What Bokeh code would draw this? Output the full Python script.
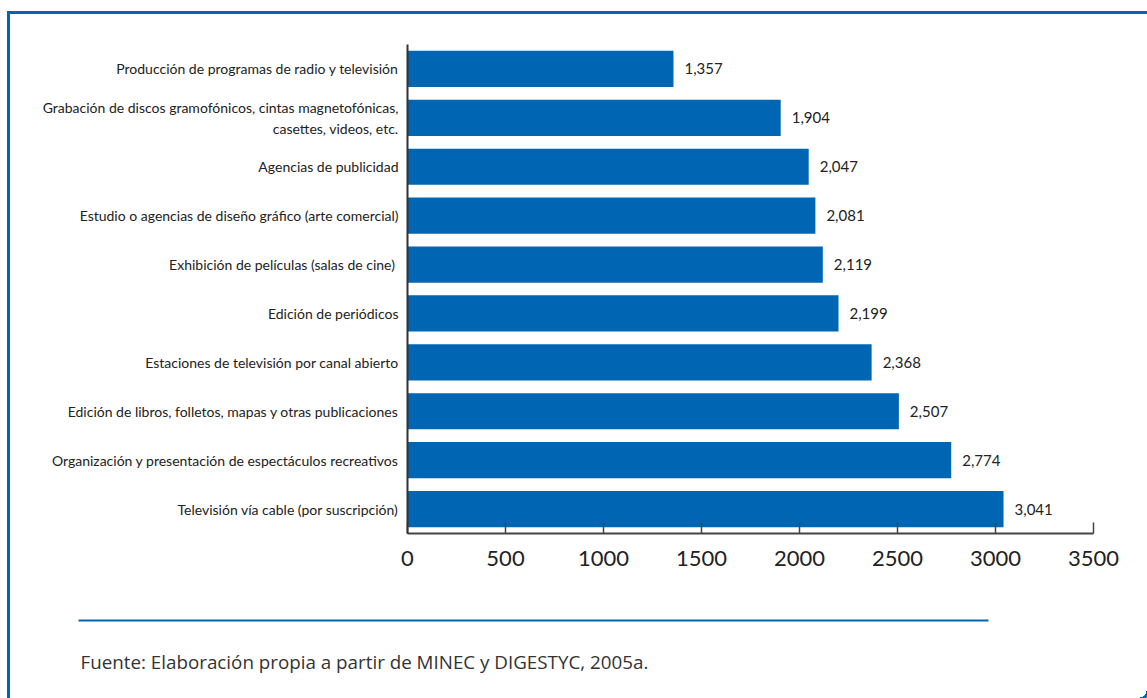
from bokeh.plotting import figure
from bokeh.layouts import column
from bokeh.models import Range1d, Label, BoxAnnotation, ColumnDataSource, FixedTicker
from bokeh.embed import file_html
from bokeh.resources import INLINE
from bokeh.core.properties import value

# ---------------- data ----------------
categories = [
    "Producción de programas de radio y televisión",
    "Grabación de discos gramofónicos, cintas magnetofónicas,\ncasettes, videos, etc.",
    "Agencias de publicidad",
    "Estudio o agencias de diseño gráfico (arte comercial)",
    "Exhibición de películas  (salas de cine)",
    "Edición de periódicos",
    "Estaciones de televisión por canal abierto",
    "Edición de libros, folletos, mapas y otras publicaciones",
    "Organización y presentación de espectáculos recreativos",
    "Televisión vía cable (por suscripción)",
]
values = [1357, 1904, 2047, 2081, 2119, 2199, 2368, 2507, 2774, 3041]
x_ticks = [0, 500, 1000, 1500, 2000, 2500, 3000, 3500]
source_note = "Fuente: Elaboración propia a partir de MINEC y DIGESTYC, 2005a."

# ---------------- layout ----------------
W, H = 1147, 698
MAIN_H = 590
FOOT_H = H - MAIN_H
LEFT, RIGHT, TOP, BOTTOM = 407, 54, 44, 57
BLUE = "#0066b3"
FONT = "Lato"
XMAX = 3500

n = len(categories)
# category slots, first category at the top
ypos = [n - i - 0.5 for i in range(n)]

src = ColumnDataSource(dict(
    y=ypos,
    val=values,
    lbl=[f"{v:,}" for v in values],
))

p = figure(
    width=W, height=MAIN_H,
    y_range=Range1d(0, n),
    x_range=Range1d(0, XMAX),
    output_backend="svg", toolbar_location=None,
    min_border_left=LEFT, min_border_right=RIGHT,
    min_border_top=TOP, min_border_bottom=BOTTOM,
)
p.frame_align = False

p.hbar(y="y", left=0, right="val", height=0.74, source=src,
       fill_color=BLUE, line_color=None)
p.text(x="val", y="y", text="lbl", source=src, x_offset=11,
       text_baseline="middle", text_align="left",
       text_font=value(FONT), text_font_size="15px", text_color="#222222")

p.xgrid.visible = False
p.ygrid.visible = False
p.outline_line_color = None
p.background_fill_color = None
p.border_fill_color = None

xa = p.xaxis[0]
xa.ticker = FixedTicker(ticks=x_ticks)
xa.axis_line_color = "#444444"
xa.axis_line_width = 2
xa.major_tick_in = 11
xa.major_tick_out = 0
xa.major_tick_line_color = "#444444"
xa.major_tick_line_width = 1.5
xa.minor_tick_line_color = None
xa.major_label_standoff = 17
xa.major_label_text_font = FONT
xa.major_label_text_font_size = "22px"
xa.major_label_text_color = "#222222"

ya = p.yaxis[0]
ya.ticker = FixedTicker(ticks=ypos)
ya.major_label_overrides = {y: c for y, c in zip(ypos, categories)}
ya.axis_line_color = "#333333"
ya.axis_line_width = 2
ya.major_tick_line_color = None
ya.major_tick_in = 0
ya.major_tick_out = 0
ya.minor_tick_line_color = None
ya.major_label_standoff = 9
ya.major_label_text_font = FONT
ya.major_label_text_font_size = "14px"
ya.major_label_text_color = "#222222"

# ---------------- footer ----------------
f = figure(
    width=W, height=FOOT_H,
    x_range=Range1d(0, W), y_range=Range1d(FOOT_H, 0),
    output_backend="svg", toolbar_location=None,
    x_axis_location=None, y_axis_location=None,
    min_border=0, min_border_left=0, min_border_right=0,
    min_border_top=0, min_border_bottom=0,
)
f.frame_align = False
f.xgrid.visible = False
f.ygrid.visible = False
f.outline_line_color = None
f.background_fill_color = None
f.border_fill_color = None

f.add_layout(BoxAnnotation(
    left=78, right=988, top=620 - MAIN_H - 1, bottom=620 - MAIN_H + 1,
    fill_color=BLUE, fill_alpha=1, line_color=None,
))
f.add_layout(Label(
    x=80, y=661 - MAIN_H, text=source_note,
    text_baseline="middle", text_align="left",
    text_font="Open Sans", text_font_size="18.8px", text_color="#333333",
))

frame_css = (
    "radial-gradient(circle at 0 0, transparent 6px, #0066b3 6.5px, "
    "#0066b3 9px, transparent 9.5px) 1140px 691px / 7px 7px no-repeat, "
    "linear-gradient(#0066b3,#0066b3) 7px 11px / 1160px 3px no-repeat, "
    "linear-gradient(#0066b3,#0066b3) 7px 11px / 3px 700px no-repeat, "
    "#ffffff"
)
layout = column(p, f, spacing=0, styles={"background": frame_css})

open("out.html", "w").write(file_html(layout, INLINE))
